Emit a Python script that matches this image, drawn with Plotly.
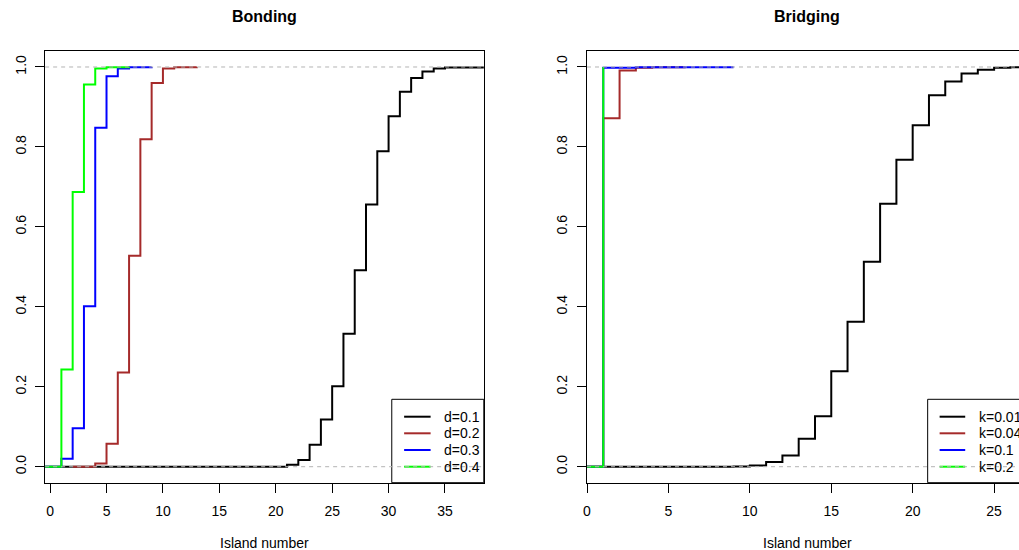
import plotly.graph_objects as go

W, H = 1019, 550

# ---------------- data ----------------
# Bonding panel: cumulative probability vs island number (step functions)
bond_labels = ["d=0.1", "d=0.2", "d=0.3", "d=0.4"]
bond_d01_x = [-1, 21, 22, 23, 24, 25, 26, 27, 28, 29, 30, 31, 32, 33, 34, 35, 40]
bond_d01_y = [0, 0.005, 0.0165, 0.055, 0.118, 0.2015, 0.3325, 0.4915, 0.656, 0.789,
              0.8765, 0.938, 0.9725, 0.989, 0.9965, 0.999, 1.0]
bond_d02_x = [2, 4, 5, 6, 7, 8, 9, 10, 11, 13]
bond_d02_y = [0, 0.008, 0.0575, 0.236, 0.528, 0.819, 0.96, 0.996, 0.9995, 1.0]
bond_d03_x = [-1, 1, 2, 3, 4, 5, 6, 7, 9]
bond_d03_y = [0, 0.02, 0.096, 0.4015, 0.848, 0.977, 0.996, 0.9995, 1.0]
bond_d04_x = [-1, 1, 2, 3, 4, 5, 7]
bond_d04_y = [0, 0.243, 0.687, 0.956, 0.996, 0.9995, 1.0]

# Bridging panel
bridge_labels = ["k=0.01", "k=0.04", "k=0.1", "k=0.2"]
bridge_k001_x = [-1, 9, 10, 11, 12, 13, 14, 15, 16, 17, 18, 19, 20, 21, 22, 23, 24, 25, 26, 28]
bridge_k001_y = [0, 0.0005, 0.003, 0.0115, 0.028, 0.07, 0.1265, 0.239, 0.3625, 0.5125,
                 0.658, 0.768, 0.854, 0.929, 0.964, 0.984, 0.993, 0.998, 0.9995, 1.0]
bridge_k004_x = [-1, 1, 2, 3, 4, 6]
bridge_k004_y = [0, 0.8715, 0.991, 0.998, 0.9995, 1.0]
bridge_k01_x = [-1, 1, 3, 9]
bridge_k01_y = [0, 0.998, 0.9995, 0.9995]
bridge_k02_x = [-1, 1]
bridge_k02_y = [0, 1.0]

series_colors = ["#000000", "#A52A2A", "#0000FF", "#00FF00"]

x_ticks_left = [0, 5, 10, 15, 20, 25, 30, 35]
x_ticks_right = [0, 5, 10, 15, 20, 25]
y_ticks = [0.0, 0.2, 0.4, 0.6, 0.8, 1.0]
y_tick_text = ["0.0", "0.2", "0.4", "0.6", "0.8", "1.0"]

FONT = "Liberation Sans, Arial, Helvetica, sans-serif"

def px_x(p):
    return p / W

def px_y(p):
    return 1 - p / H

fig = go.Figure()

bond = [(bond_d01_x, bond_d01_y), (bond_d02_x, bond_d02_y),
        (bond_d03_x, bond_d03_y), (bond_d04_x, bond_d04_y)]
bridge = [(bridge_k001_x, bridge_k001_y), (bridge_k004_x, bridge_k004_y),
          (bridge_k01_x, bridge_k01_y), (bridge_k02_x, bridge_k02_y)]

for (xs, ys), c, lab in zip(bond, series_colors, bond_labels):
    fig.add_trace(go.Scatter(x=xs, y=ys, mode="lines", line=dict(color=c, width=2, shape="hv"),
                             name=lab, showlegend=False, xaxis="x", yaxis="y", cliponaxis=True))
for (xs, ys), c, lab in zip(bridge, series_colors, bridge_labels):
    fig.add_trace(go.Scatter(x=xs, y=ys, mode="lines", line=dict(color=c, width=2, shape="hv"),
                             name=lab, showlegend=False, xaxis="x2", yaxis="y2", cliponaxis=True))

ydom = [px_y(482.7), px_y(51)]
left_dom = [px_x(41.3), px_x(481.7)]
right_dom = [px_x(585.3), 1.0]
right_upp = 27 / (1026.7 - 585.3)  # units per pixel
right_max = (W - 585.3) * right_upp

axis_common = dict(showgrid=False, zeroline=False, showline=True, linecolor="black", linewidth=1,
                   ticks="outside", ticklen=9, tickwidth=1, tickcolor="black",
                   tickfont=dict(family=FONT, size=14, color="black"))

fig.update_layout(
    width=W, height=H, margin=dict(l=0, r=0, t=0, b=0),
    paper_bgcolor="white", plot_bgcolor="white",
    xaxis=dict(domain=left_dom, range=[-0.44, 38.44], tickvals=x_ticks_left, mirror=True,
               anchor="y", ticklabelstandoff=6, **axis_common),
    yaxis=dict(domain=ydom, range=[-0.04, 1.04], tickvals=y_ticks, ticktext=y_tick_text,
               tickangle=-90, mirror=True, anchor="x", ticklabelstandoff=4, **axis_common),
    xaxis2=dict(domain=right_dom, range=[0, right_max], tickvals=x_ticks_right, mirror=True,
                anchor="y2", ticklabelstandoff=6, **axis_common),
    yaxis2=dict(domain=ydom, range=[-0.04, 1.04], tickvals=y_ticks, ticktext=y_tick_text,
                tickangle=-90, mirror=False, anchor="x2", ticklabelstandoff=4, **axis_common),
)

shapes = []
annotations = []

# legends (drawn manually to match base-graphics style)
def add_legend(box_left, box_right, line_x0, line_x1, text_x, labels):
    shapes.append(dict(type="rect", xref="paper", yref="paper",
                       x0=px_x(box_left), x1=px_x(box_right), y0=px_y(482.7), y1=px_y(399.3),
                       line=dict(color="black", width=1), fillcolor="rgba(0,0,0,0)", layer="above"))
    rows = [416.7, 433.3, 450.0, 466.7]
    for r, c, lab in zip(rows, series_colors, labels):
        shapes.append(dict(type="line", xref="paper", yref="paper",
                           x0=px_x(line_x0), x1=px_x(line_x1), y0=px_y(r), y1=px_y(r),
                           line=dict(color=c, width=2), layer="above"))
        annotations.append(dict(text=lab, xref="paper", yref="paper", x=px_x(text_x), y=px_y(r),
                                xanchor="left", yanchor="middle", showarrow=False,
                                font=dict(family=FONT, size=14, color="black")))

add_legend(389.3, 481.7, 401.7, 428.3, 439.5, bond_labels)
add_legend(927.3, 1040, 939.3, 965.0, 977.2, bridge_labels)

# horizontal reference lines at 0 and 1 (drawn on top)
for xr, yr in [("x", "y"), ("x2", "y2")]:
    for h in [0.0, 1.0]:
        shapes.append(dict(type="line", xref=f"{xr} domain", yref=yr, x0=0, x1=1, y0=h, y1=h,
                           line=dict(color="#B3B3B3", width=1, dash="4px,4px"), layer="above"))

# titles
annotations.append(dict(text="<b>Bonding</b>", xref="paper", yref="paper", x=px_x(261.5), y=px_y(17),
                        xanchor="center", yanchor="middle", showarrow=False,
                        font=dict(family=FONT, size=16, color="black")))
annotations.append(dict(text="<b>Bridging</b>", xref="paper", yref="paper", x=px_x(806), y=px_y(17),
                        xanchor="center", yanchor="middle", showarrow=False,
                        font=dict(family=FONT, size=16, color="black")))
# axis titles
for cx in [261.7, 806.3]:
    annotations.append(dict(text="Island number", xref="paper", yref="paper", x=px_x(cx), y=px_y(542.7),
                            xanchor="center", yanchor="middle", showarrow=False,
                            font=dict(family=FONT, size=14, color="black")))

fig.update_layout(shapes=shapes, annotations=annotations)

fig.write_html("out.html")
